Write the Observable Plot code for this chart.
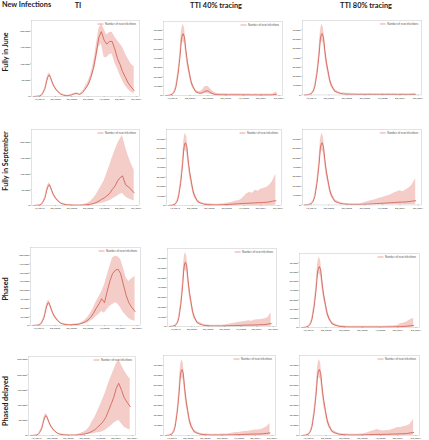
<!DOCTYPE html>
<html><head><meta charset="utf-8">
<script src="https://cdn.jsdelivr.net/npm/d3@7"></script>
<script src="https://cdn.jsdelivr.net/npm/@observablehq/plot@0.6"></script>
<style>
html,body{margin:0;padding:0;background:#fff;}
#root{position:relative;width:429px;height:440px;overflow:hidden;font-family:Lato,"Open Sans",sans-serif;}
.ttl{position:absolute;font-weight:700;color:#1c1c1c;white-space:nowrap;line-height:1;}
.rowl{position:absolute;font-weight:700;color:#1c1c1c;white-space:nowrap;line-height:1;transform:translate(-50%,-50%) rotate(-90deg);}
.panel{position:absolute;}
</style></head><body><div id="root"></div>
<script>
// ---------- data (values in thousands of new infections) ----------
const dates = ["2019-10-28","2019-11-15","2019-12-02","2019-12-12","2019-12-20","2019-12-31","2020-01-06","2020-01-11","2020-01-17","2020-01-22","2020-01-26","2020-02-02","2020-02-09","2020-02-17","2020-02-26","2020-03-05","2020-03-14","2020-03-31","2020-04-15","2020-05-01","2020-05-15","2020-06-01","2020-06-15","2020-07-01","2020-07-15","2020-08-01","2020-08-15","2020-09-01","2020-09-15","2020-10-01","2020-10-15","2020-11-01","2020-11-15","2020-12-01","2020-12-15","2021-01-01","2021-01-15","2021-02-01","2021-02-15","2021-03-01","2021-03-15","2021-04-01","2021-04-15","2021-05-01","2021-05-20"];

const columnTitles = ["TI","TTI 40% tracing","TTI 80% tracing"];
const rowTitles = ["Fully in June","Fully in September","Phased","Phased delayed"];
const cornerTitle = "New Infections";
const legendLabel = "Number of new infections";
const xTickDates = ["2019-12-01","2020-03-01","2020-06-01","2020-09-01","2020-12-01","2021-03-01","2021-06-01"];
const yTicksTI50 = [0,50,100,150,200];
const yTicksTI25 = [0,25,50,75,100,125,150,175,200];
const yTicksTI250 = [0,50,100,150,200,250];
const yTicksTTI = [0,10,20,30,40,50,60,70];

// TI: first wave (first 20 dates)
const tiWaveMean = [0,0.5,1.5,4,10,22,35,47,58,64,66,58,47,36,27,21,15,7,4,2.5];
const tiWaveLo   = [0,0.3,1,3,8,18,30,41,51,57,60,52,42,31,23,17,12,5,3,1.5];
const tiWaveHi   = [0,0.8,2,5.5,13,27,41,54,65,70,72,65,53,41,32,25,19,9,6,4];
// TI: remaining 25 dates
const juneTIMean = [3,5,8,9,6,12,22,36,55,85,125,180,198,172,160,168,168,142,115,98,76,58,42,30,18];
const juneTILo   = [2,3.5,6,7,4.5,9,17,29,45,70,100,150,160,120,118,128,130,100,85,65,48,32,22,14,8];
const juneTIHi   = [4,6.5,10,11.5,8,15,28,45,66,100,148,205,222,205,188,195,196,180,170,160,150,130,115,100,90];
const septTIMean = [2,1.5,1,1,1,1.5,2,3,4,6,9,14,19,24,30,38,50,62,78,88,94,66,60,52,40];
const septTILo   = [1,0.8,0.5,0.5,0.5,0.5,0.8,1,1.5,2,3,5,7,9,12,15,20,25,30,36,38,28,22,18,14];
const septTIHi   = [3.5,2.5,2,2,2,3,5,8,13,22,32,48,62,78,100,125,150,175,195,210,222,185,160,135,112];
const phasedTIMean = [2,2,2.5,3,4,7,10,16,23,35,48,62,76,65,95,128,148,158,160,147,118,85,65,52,40];
const phasedTILo   = [1,1,1,1.5,2,3,5,8,12,18,25,32,40,35,45,55,60,65,60,50,38,28,20,15,12];
const phasedTIHi   = [3.5,3,4,5,6,10,15,24,35,50,66,82,95,115,140,170,192,198,195,188,165,135,125,132,140];
const delayedTIMean = [2,1.5,1.2,1.2,1.5,2.5,3.5,5,7,10,14,20,28,36,45,60,80,105,126,155,172,148,125,110,95];
const delayedTILo   = [1,0.8,0.6,0.6,0.7,1,1.5,2,3,4,5,7,9,10,13,18,25,32,40,45,50,38,28,22,18];
const delayedTIHi   = [3.5,2.5,2.2,2.2,3,5,8,12,18,30,45,62,80,100,120,145,170,195,215,235,250,230,215,200,185];

// TTI: first wave (first 19 dates)
const ttiWaveMean = [0,0.2,1.4,4,9,23,34,44,60,65,66,62,48,35,25,16,10,4,2.5];
const ttiWaveLo   = [0,0.1,1,3,7,19,29,38,52,57,58,55,42,30,21,13,8,3,1.8];
const ttiWaveHi   = [0,0.4,2,5.5,12,28,40,52,68,74,76,72,57,42,31,21,14,6,4];
// TTI: remaining 26 dates
const ttiTailLo = [1,0.5,0.3,0.2,0.2,0.2,0.1,0.2,0.1,0.1,0.2,0.1,0.2,0.1,0.2,0.1,0.1,0.1,0.1,0.1,0.1,0.1,0.1,0.1,0.1,0.2];
const june40Mean = [2.5,4.5,5,3,1.5,1,0.8,0.7,0.8,0.6,0.7,0.6,0.7,0.6,0.7,0.6,0.6,0.5,0.6,0.5,0.5,0.6,0.5,0.5,0.6,1.5];
const june40Lo   = [1.5,2,2,1,0.5,0.3,0.2,0.2,0.2,0.1,0.2,0.1,0.2,0.1,0.2,0.1,0.1,0.1,0.1,0.1,0.1,0.1,0.1,0.1,0.1,0.3];
const june40Hi   = [5,9,10,7,3.5,2.5,2,1.8,2,1.6,1.8,1.5,1.8,1.5,1.7,1.5,1.6,1.4,1.6,1.3,1.5,1.4,1.5,1.3,1.6,4];
const june80Mean = [1.5,1,0.8,0.7,0.6,0.6,0.5,0.6,0.5,0.5,0.6,0.5,0.5,0.5,0.6,0.5,0.5,0.5,0.5,0.4,0.5,0.5,0.4,0.5,0.5,0.6];
const june80Hi   = [2.5,2,1.8,1.7,1.5,1.6,1.4,1.6,1.4,1.5,1.6,1.4,1.5,1.4,1.6,1.4,1.5,1.4,1.5,1.3,1.4,1.5,1.3,1.4,1.5,1.8];
const sept40Mean = [1.5,1,0.8,0.7,0.6,0.6,0.7,0.8,1,1.2,1.4,1.6,1.8,2,2.2,2.3,2.5,2.6,2.8,3,3,3.2,3.4,3.8,4.5,5];
const sept40Hi   = [2.5,2,1.8,1.6,1.4,1.4,1.5,1.8,2.5,3,3.5,4.5,5,6,9,12,14,13,16,15,17,18,19,21,25,33];
const sept80Mean = [1.5,1,0.8,0.6,0.5,0.5,0.5,0.6,0.7,0.9,1,1.2,1.4,1.6,1.8,2,2.2,2.4,2.6,2.8,3,3,3.2,3.5,4,4.5];
const sept80Hi   = [2.5,1.8,1.5,1.4,1.3,1.3,1.4,1.5,2.5,3.5,4.5,5,6,7,8,9,10,11,13,14,15,14,16,18,21,28];
const phased40Mean = [1.5,1,0.8,0.6,0.5,0.5,0.5,0.5,0.6,0.7,0.8,0.9,1,1.1,1.2,1.3,1.4,1.5,1.5,1.6,1.7,1.8,1.9,2,2.5,3];
const phased40Hi   = [2.5,1.8,1.5,1.4,1.3,1.3,1.3,1.4,1.5,2,2.5,3,3.5,4,4.5,5,5.5,6,5.5,6.5,7,7,7.5,8,9,14];
const phased80Mean = [1.5,1,0.8,0.6,0.5,0.5,0.5,0.5,0.5,0.5,0.5,0.5,0.5,0.5,0.5,0.5,0.5,0.6,0.6,0.7,0.8,1,1.2,1.4,1.8,2.2];
const phased80Hi   = [2.5,1.8,1.5,1.4,1.3,1.3,1.3,1.3,1.3,1.4,1.3,1.4,1.3,1.4,1.4,1.4,1.5,1.5,1.6,1.8,2.5,4,5,6,8,10];
const delayed40Mean = [1.5,1,0.8,0.6,0.5,0.5,0.5,0.5,0.5,0.5,0.6,0.6,0.7,0.8,0.9,1,1.1,1.2,1.3,1.4,1.5,1.5,1.6,1.8,2.2,2.5];
const delayed40Hi   = [2.5,1.8,1.5,1.4,1.3,1.3,1.3,1.3,1.4,1.4,1.5,2,2.5,3,3,3.5,4,4,4.5,5,5.5,5.5,6,7,8.5,12];
const delayed80Mean = [1.5,1,0.8,0.6,0.5,0.5,0.5,0.5,0.6,0.7,0.8,0.9,1,1.1,1.1,1.1,1.2,1.3,1.4,1.5,1.6,1.7,1.8,2,2.5,3];
const delayed80Hi   = [2.5,1.8,1.5,1.4,1.3,1.3,1.3,1.4,1.5,2,3,4,5,6,5,4.5,5,5,6,7,8,8,9,9.5,11,16];

// ---------- panels ----------
const TI = (m,l,h) => ({mean: tiWaveMean.concat(m), lo: tiWaveLo.concat(l), hi: tiWaveHi.concat(h)});
const TT = (m,l,h) => ({mean: ttiWaveMean.concat(m), lo: ttiWaveLo.concat(l), hi: ttiWaveHi.concat(h)});
const panels = [
  [ {...TI(juneTIMean,juneTILo,juneTIHi), yMax:232, yTicks:yTicksTI50},
    {...TT(june40Mean,june40Lo,june40Hi), yMax:79, yTicks:yTicksTTI},
    {...TT(june80Mean,ttiTailLo,june80Hi), yMax:80, yTicks:yTicksTTI} ],
  [ {...TI(septTIMean,septTILo,septTIHi), yMax:241, yTicks:yTicksTI50},
    {...TT(sept40Mean,ttiTailLo,sept40Hi), yMax:80, yTicks:yTicksTTI},
    {...TT(sept80Mean,ttiTailLo,sept80Hi), yMax:80, yTicks:yTicksTTI} ],
  [ {...TI(phasedTIMean,phasedTILo,phasedTIHi), yMax:222, yTicks:yTicksTI25},
    {...TT(phased40Mean,ttiTailLo,phased40Hi), yMax:80, yTicks:yTicksTTI},
    {...TT(phased80Mean,ttiTailLo,phased80Hi), yMax:80, yTicks:yTicksTTI} ],
  [ {...TI(delayedTIMean,delayedTILo,delayedTIHi), yMax:260, yTicks:yTicksTI250},
    {...TT(delayed40Mean,ttiTailLo,delayed40Hi), yMax:80, yTicks:yTicksTTI},
    {...TT(delayed80Mean,ttiTailLo,delayed80Hi), yMax:80, yTicks:yTicksTTI} ]
];

// frame rectangles [x0,x1,y0,y1] in page pixels
const frames = [
  [[31,139,20,96],[163,282,21,95],[302,422,20,95]],
  [[31,139,129,205],[166,281,129,205],[302,422,129,205]],
  [[30,140,247,325],[167,276,248,326],[299,419,253,327]],
  [[28,135,356,435],[163,275,355,435],[299,419,355,435]]
];

const root = document.getElementById("root");
const NS = "http://www.w3.org/2000/svg";
const xDomain = [new Date("2019-10-17"), new Date("2021-06-19")];
const fmtX = d3.utcFormat("%m/%Y");
const fmtY = d => d3.format(",")(Math.round(d*1000));

function drawPanel(p, f) {
  const [x0,x1,y0,y1] = f;
  const ml = 16, mr = 8, mt = 2, mb = 7;
  const data = dates.map((d,i) => ({date: new Date(d), mean: p.mean[i], lo: p.lo[i], hi: p.hi[i]}));
  const svg = Plot.plot({
    width: x1-x0+ml+mr, height: y1-y0+mt+mb,
    marginLeft: ml, marginRight: mr, marginTop: mt, marginBottom: mb,
    style: {fontFamily: "Lato, sans-serif", fontSize: "2.6px", color: "#333", background: "transparent", overflow: "visible"},
    x: {type: "utc", domain: xDomain},
    y: {domain: [0, p.yMax]},
    marks: [
      Plot.areaY(data, {x: "date", y1: "lo", y2: "hi", fill: "#f4cdc8"}),
      Plot.lineY(data, {x: "date", y: "mean", stroke: "#d4645a", strokeWidth: 0.9}),
      Plot.frame({stroke: "#cfcfcf", strokeWidth: 0.6}),
      Plot.axisX({ticks: xTickDates.map(d => new Date(d)), tickFormat: fmtX, tickSize: 1, tickPadding: 0.8, label: null, stroke: "#777", strokeWidth: 0.4}),
      Plot.axisY({ticks: p.yTicks, tickFormat: fmtY, tickSize: 1, tickPadding: 0.8, label: null, stroke: "#777", strokeWidth: 0.4})
    ]
  });
  // legend inside top-right of frame
  const xr = ml + (x1-x0) - 3, yl = mt + 4;
  const t = document.createElementNS(NS, "text");
  t.setAttribute("x", xr); t.setAttribute("y", yl);
  t.setAttribute("text-anchor", "end"); t.setAttribute("dominant-baseline", "middle");
  t.setAttribute("font-size", "2.8"); t.setAttribute("fill", "#555");
  t.setAttribute("textLength", "31"); t.setAttribute("lengthAdjust", "spacingAndGlyphs");
  t.textContent = legendLabel;
  const ln = document.createElementNS(NS, "line");
  ln.setAttribute("x1", xr-31-7.5); ln.setAttribute("x2", xr-31-1.5);
  ln.setAttribute("y1", yl); ln.setAttribute("y2", yl);
  ln.setAttribute("stroke", "#eaa49d"); ln.setAttribute("stroke-width", "1");
  svg.append(ln, t);
  const wrap = document.createElement("div");
  wrap.className = "panel";
  wrap.style.left = (x0-ml) + "px"; wrap.style.top = (y0-mt) + "px";
  wrap.append(svg);
  root.append(wrap);
}

panels.forEach((row, r) => row.forEach((p, c) => drawPanel(p, frames[r][c])));

// titles
function addDiv(cls, text, css) {
  const d = document.createElement("div");
  d.className = cls; d.textContent = text;
  Object.assign(d.style, css);
  root.append(d);
}
addDiv("ttl", cornerTitle, {left: "2px", top: "1px", fontSize: "7.3px"});
const colCenters = [78, 216, 366];
columnTitles.forEach((t, i) => addDiv("ttl", t, {left: colCenters[i]+"px", top: "2px", fontSize: "7.4px", transform: "translateX(-50%)"}));
const rowCenters = [52, 161, 289, 401];
rowTitles.forEach((t, i) => addDiv("rowl", t, {left: "6px", top: rowCenters[i]+"px", fontSize: "7.2px"}));
</script>
</body></html>
